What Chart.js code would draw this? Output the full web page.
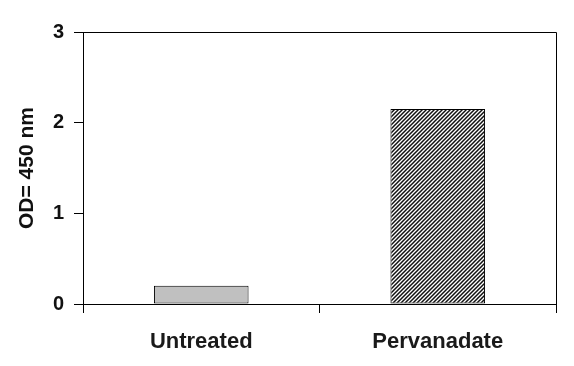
<!DOCTYPE html>
<html>
<head>
<meta charset="utf-8">
<script src="https://cdn.jsdelivr.net/npm/chart.js@4.4.1/dist/chart.umd.min.js"></script>
<style>
  body { margin: 0; background: #fff; }
  #wrap { width: 574px; height: 366px; }
</style>
</head>
<body>
<div id="wrap"><canvas id="c" width="574" height="366"></canvas></div>
<script>
const categories = ['Untreated', 'Pervanadate']
const odValues = [0.2, 2.15]
const yTicks = [0, 1, 2, 3]
const yTitle = 'OD= 450 nm'

// diagonal hatching for the treated bar
function hatch() {
    const p = document.createElement('canvas')
    p.width = 4
    p.height = 4
    const g = p.getContext('2d')
    g.fillStyle = '#fff'
    g.fillRect(0, 0, 4, 4)
    g.strokeStyle = '#111'
    g.lineWidth = 1.5
    g.beginPath()
    g.moveTo(0, 4); g.lineTo(4, 0)
    g.moveTo(-1, 1); g.lineTo(1, -1)
    g.moveTo(3, 5); g.lineTo(5, 3)
    g.stroke()
    return g.createPattern(p, 'repeat')
}

const frame = {
    id: 'frame',
    afterDraw(chart) {
        const {ctx, chartArea: a} = chart
        ctx.save()
        ctx.strokeStyle = '#000'
        ctx.lineWidth = 1
        ctx.beginPath()
        ctx.moveTo(a.left, a.top + 0.5)
        ctx.lineTo(a.right + 0.5, a.top + 0.5)
        ctx.lineTo(a.right + 0.5, a.bottom)
        ctx.stroke()
        ctx.restore()
    }
}

const font = 'Liberation Sans, Arial, sans-serif'

new Chart(document.getElementById('c').getContext('2d'), {
    type: 'bar',
    data: {
        labels: categories,
        datasets: [{
            data: odValues,
            backgroundColor: ['#c0c0c0', hatch()],
            borderColor: '#000',
            borderWidth: 1,
            borderSkipped: false,
            barPercentage: 0.4,
            categoryPercentage: 1.0
        }]
    },
    options: {
        responsive: false,
        animation: false,
        layout: { padding: { top: 32, right: 18, left: 0, bottom: 0 } },
        plugins: { legend: { display: false }, tooltip: { enabled: false } },
        scales: {
            x: {
                grid: { drawOnChartArea: false, tickLength: 9, color: '#000', offset: true },
                border: { color: '#000', width: 1 },
                ticks: { color: '#1a1a1a', padding: 16, font: { family: font, size: 22, weight: 'bold' } },
                afterFit: (s) => { s.height = 62 }
            },
            y: {
                min: 0,
                max: 3,
                afterBuildTicks: (s) => { s.ticks = yTicks.map(v => ({value: v})) },
                grid: { drawOnChartArea: false, tickLength: 9, color: '#000' },
                border: { color: '#000', width: 1 },
                ticks: { color: '#111', padding: 10, font: { family: font, size: 20, weight: 'bold' } },
                title: {
                    display: true,
                    text: yTitle,
                    color: '#111',
                    padding: { top: 15, bottom: 0 },
                    font: { family: font, size: 21, weight: 'bold' }
                },
                afterFit: (s) => { s.width = 83 }
            }
        }
    },
    plugins: [frame]
})
</script>
</body>
</html>
